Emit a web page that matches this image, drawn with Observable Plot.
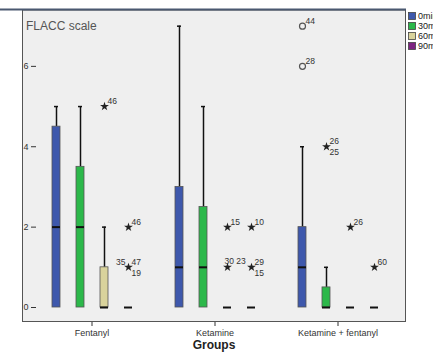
<!DOCTYPE html>
<html>
<head>
<meta charset="utf-8">
<script src="https://cdn.jsdelivr.net/npm/d3@7"></script>
<script src="https://cdn.jsdelivr.net/npm/@observablehq/plot@0.6"></script>
<style>
  html, body { margin: 0; padding: 0; background: #fff; overflow: hidden; }
  #chart { position: relative; width: 433px; height: 354px; overflow: hidden; }
</style>
</head>
<body>
<div id="chart"></div>
<script>
// ---- data ----
const groups = ["Fentanyl", "Ketamine", "Ketamine + fentanyl"];
const times = ["0min", "30min", "60min", "90min"];
const timeColors = ["#3e58ac", "#2cb84a", "#d9d39c", "#7d2381"];
const yTicks = [0, 2, 4, 6];

// box statistics, 12 boxes: group-major, time-minor
const boxQ1     = [0, 0, 0, 0,   0, 0, 0, 0,   0, 0, 0, 0];
const boxMedian = [2, 2, 0, 0,   1, 1, 0, 0,   1, 0, 0, 0];
const boxQ3     = [4.5, 3.5, 1, 0,   3, 2.5, 0, 0,   2, 0.5, 0, 0];
const boxMax    = [5, 5, 2, 0,   7, 5, 0, 0,   4, 1, 0, 0];

// outliers
const outGroup = ["Fentanyl", "Fentanyl", "Fentanyl", "Ketamine", "Ketamine", "Ketamine", "Ketamine",
                  "Ketamine + fentanyl", "Ketamine + fentanyl", "Ketamine + fentanyl", "Ketamine + fentanyl", "Ketamine + fentanyl"];
const outTime  = ["60min", "90min", "90min", "60min", "60min", "90min", "90min",
                  "0min", "0min", "30min", "60min", "90min"];
const outValue = [5, 2, 1, 2, 1, 2, 1, 7, 6, 4, 2, 1];
const outKind  = ["extreme", "extreme", "extreme", "extreme", "extreme", "extreme", "extreme",
                  "outlier", "outlier", "extreme", "extreme", "extreme"];

// case-number labels next to outliers: [outlier index, text, placement]
const labelOutlier = [0, 1, 2, 2, 2, 3, 4, 5, 6, 6, 7, 8, 9, 9, 10, 11];
const labelText    = ["46", "46", "35", "47", "19", "15", "30 23", "10", "29", "15", "44", "28", "26", "25", "26", "60"];
const labelPlace   = ["ur", "ur", "ul", "ur", "lr", "ur", "u", "ur", "ur", "lr", "ur", "ur", "ur", "lr", "ur", "ur"];

// ---- build tables ----
const boxes = boxQ1.map((q1, i) => ({
  group: groups[Math.floor(i / 4)],
  time: times[i % 4],
  q1, median: boxMedian[i], q3: boxQ3[i], max: boxMax[i]
}));
const outliers = outValue.map((v, i) => ({group: outGroup[i], time: outTime[i], value: v, kind: outKind[i]}));
const labels = labelText.map((t, i) => ({...outliers[labelOutlier[i]], text: t, place: labelPlace[i]}));

const W = 433, H = 354, mL = 22, mR = 27, mT = 10, mB = 32;
const font = "Arial, 'Liberation Sans', Helvetica, sans-serif";

const placeOffsets = {ur: [3, -5, "start"], lr: [3, 6, "start"], ul: [-3, -5, "end"], u: [-3, -6, "start"]};
const labelMarks = Object.entries(placeOffsets).map(([p, [dx, dy, anchor]]) =>
  Plot.text(labels.filter(d => d.place === p), {
    fx: "group", x: "time", y: "value", text: "text",
    dx, dy, textAnchor: anchor, fontSize: 8.5, fill: "#333"
  })
);

const plot = Plot.plot({
  width: W, height: H,
  marginLeft: mL, marginRight: mR, marginTop: mT, marginBottom: mB,
  style: {fontFamily: font, fontSize: "9px", color: "#333", background: "transparent"},
  fx: {domain: groups, label: null, tickSize: 4, tickPadding: 3, paddingInner: 0.1, paddingOuter: 0.0985},
  x: {domain: times, axis: null, paddingInner: 0.67, paddingOuter: 0.61},
  y: {domain: [-0.373, 7.39], ticks: yTicks, tickSize: 5, tickPadding: 3, label: null, tickFormat: d => String(d)},
  color: {domain: times, range: timeColors},
  marks: [
    Plot.ruleX(boxes.filter(d => d.max > d.q3), {fx: "group", x: "time", y1: "q3", y2: "max", stroke: "#111", strokeWidth: 1.5}),
    Plot.tickY(boxes.filter(d => d.max > d.q3), {fx: "group", x: "time", y: "max", stroke: "#111", strokeWidth: 1.5, insetLeft: 2, insetRight: 2}),
    Plot.barY(boxes.filter(d => d.q3 > d.q1), {fx: "group", x: "time", y1: "q1", y2: "q3", fill: "time", stroke: "#555", strokeWidth: 0.8}),
    Plot.tickY(boxes, {fx: "group", x: "time", y: "median", stroke: "#111", strokeWidth: 2}),
    Plot.dot(outliers.filter(d => d.kind === "extreme"), {fx: "group", x: "time", y: "value", symbol: "star", r: 2.8, fill: "#222"}),
    Plot.dot(outliers.filter(d => d.kind === "outlier"), {fx: "group", x: "time", y: "value", symbol: "circle", r: 3, stroke: "#555", strokeWidth: 1.2, fill: "none"}),
    ...labelMarks
  ]
});

document.getElementById("chart").appendChild(plot);

// ---- decorations: plot background, frame, header line, title, axis title, legend ----
const svg = d3.select(plot);
const pw = W - mL - mR, ph = H - mT - mB;
svg.insert("rect", ":first-child")
  .attr("x", mL).attr("y", mT).attr("width", pw).attr("height", ph)
  .attr("fill", "#efefef");
svg.append("rect")
  .attr("x", mL + 0.5).attr("y", mT).attr("width", pw - 1).attr("height", ph - 0.5)
  .attr("fill", "none").attr("stroke", "#555").attr("stroke-width", 1);
svg.append("line")
  .attr("x1", 0).attr("x2", mL + pw).attr("y1", mT - 0.5).attr("y2", mT - 0.5)
  .attr("stroke", "#4a5870").attr("stroke-width", 2);
svg.append("text")
  .attr("x", mL + 4).attr("y", mT + 20).attr("text-anchor", "start")
  .attr("font-size", 12).attr("fill", "#555").attr("font-family", font)
  .text("FLACC scale");
svg.append("text")
  .attr("x", mL + pw / 2).attr("y", H - 5)
  .attr("text-anchor", "middle").attr("font-size", 12).attr("font-weight", "bold")
  .attr("fill", "#222").attr("font-family", font)
  .text("Groups");
const legend = svg.append("g").attr("transform", `translate(${mL + pw + 2},12)`);
times.forEach((t, i) => {
  const g = legend.append("g").attr("transform", `translate(0,${i * 10})`);
  g.append("rect").attr("x", 0.5).attr("y", 0.5).attr("width", 7).attr("height", 7)
    .attr("fill", timeColors[i]).attr("stroke", "#444").attr("stroke-width", 0.8);
  g.append("text").attr("x", 10).attr("y", 7).attr("text-anchor", "start")
    .attr("font-size", 9).attr("fill", "#222")
    .attr("font-family", font).text(t);
});
</script>
</body>
</html>
